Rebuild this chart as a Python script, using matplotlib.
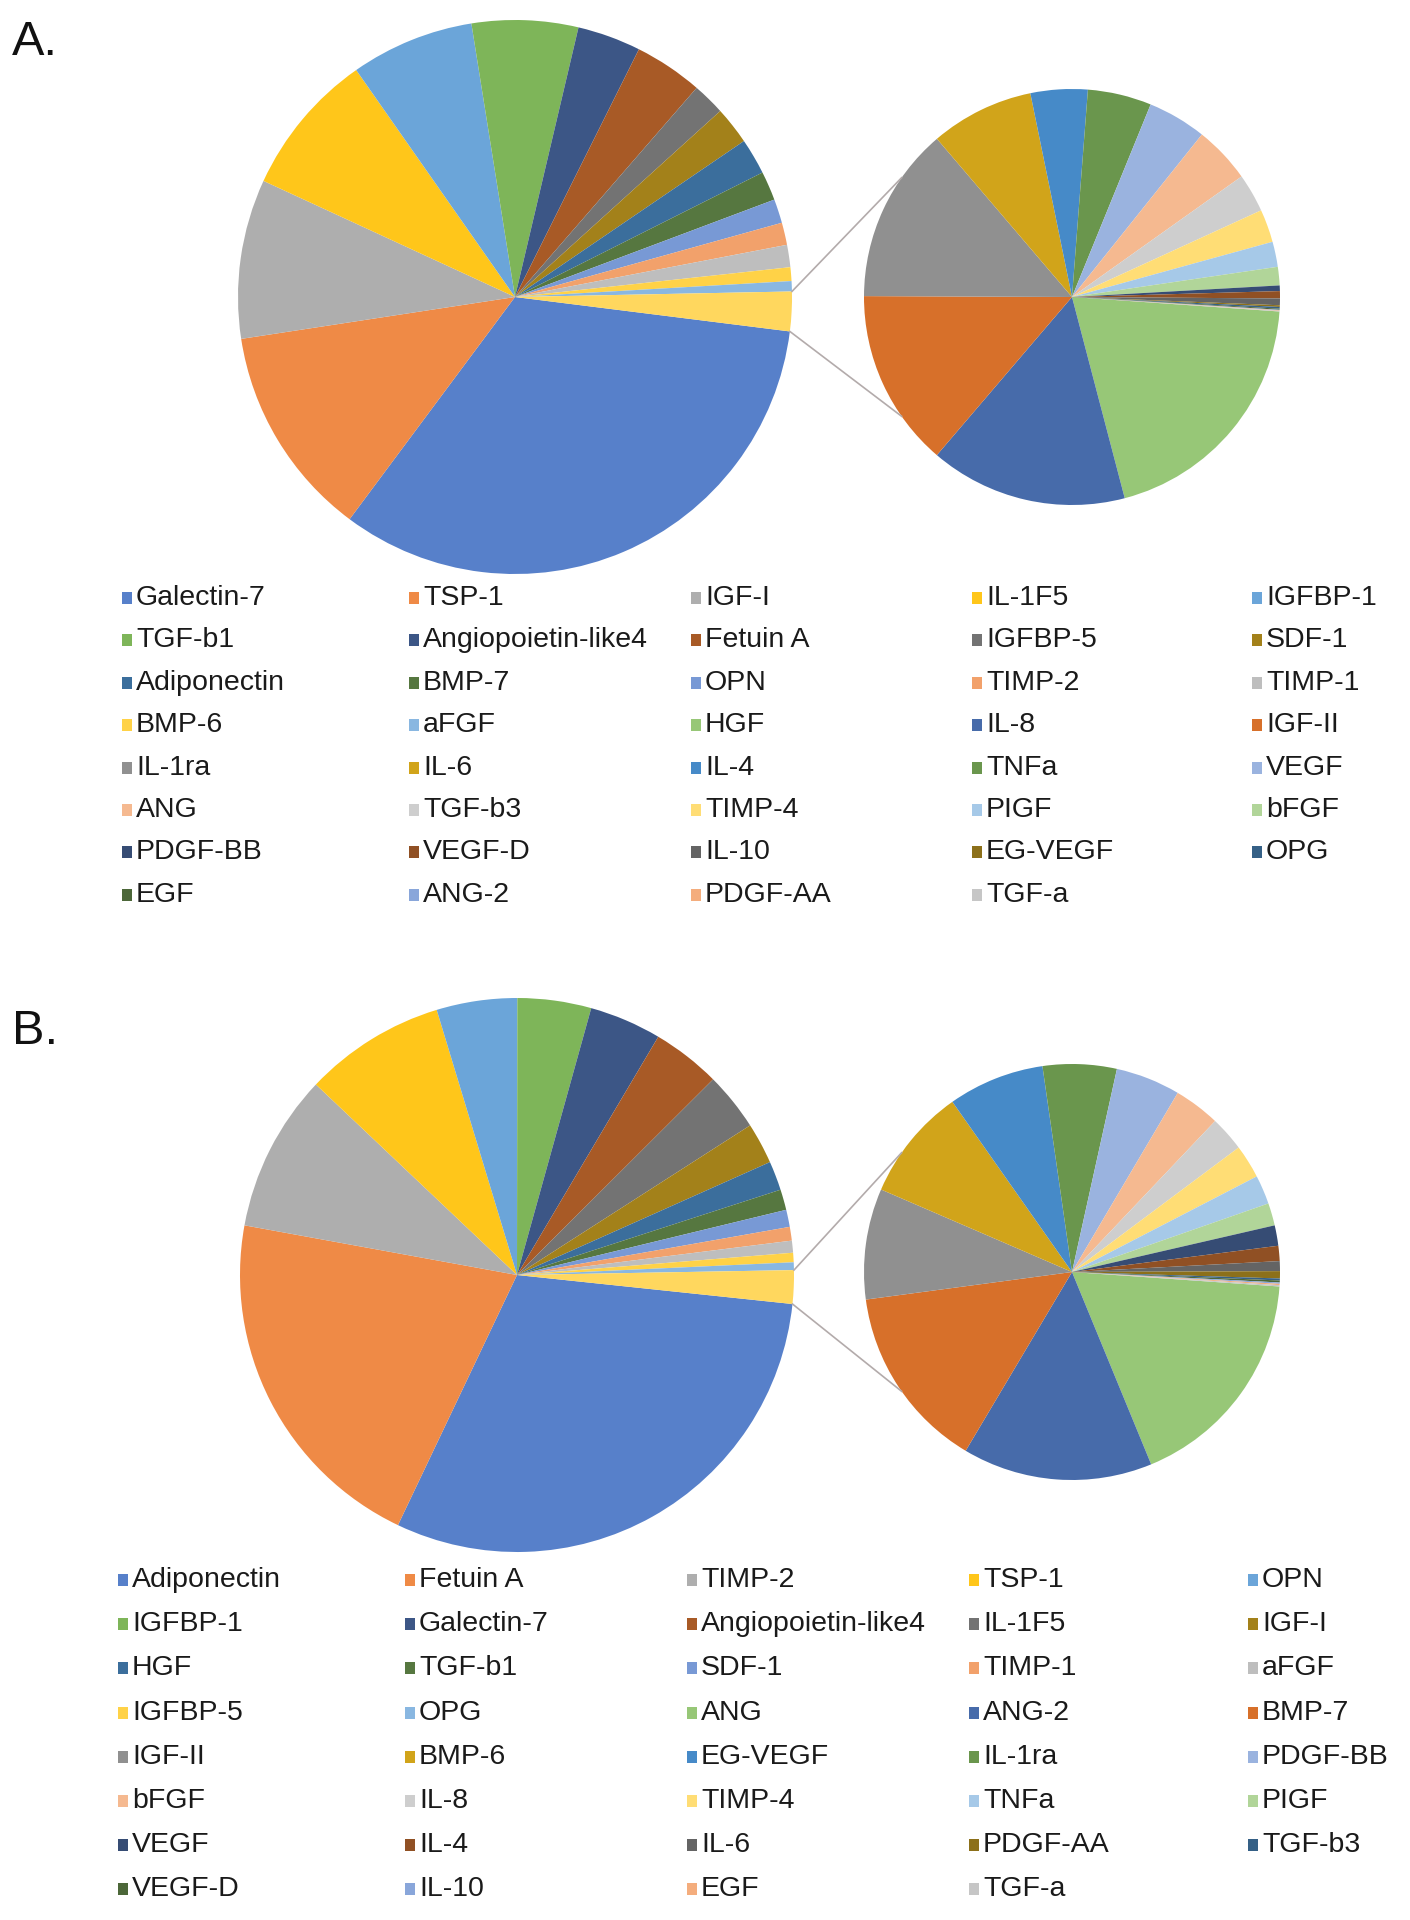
import colorsys
import numpy as np
import matplotlib
matplotlib.use("Agg")
import matplotlib.pyplot as plt
from matplotlib.patches import Rectangle

plt.rcParams['font.family'] = ['Liberation Sans', 'DejaVu Sans']

W, H = 1410, 1920

# panel A: data order (first 17 in the main pie, the rest in the small pie)
names_a = ["Galectin-7", "TSP-1", "IGF-I", "IL-1F5", "IGFBP-1", "TGF-b1",
           "Angiopoietin-like4", "Fetuin A", "IGFBP-5", "SDF-1", "Adiponectin",
           "BMP-7", "OPN", "TIMP-2", "TIMP-1", "BMP-6", "aFGF", "HGF", "IL-8",
           "IGF-II", "IL-1ra", "IL-6", "IL-4", "TNFa", "VEGF", "ANG", "TGF-b3",
           "TIMP-4", "PIGF", "bFGF", "PDGF-BB", "VEGF-D", "IL-10", "EG-VEGF",
           "OPG", "EGF", "ANG-2", "PDGF-AA", "TGF-a"]
values_a = [33.2, 12.4, 9.3, 8.4, 7.2, 6.2, 3.7, 4.0, 1.9, 2.2, 2.1, 1.7, 1.4,
            1.3, 1.3, 0.8, 0.6,
            0.456, 0.353, 0.318, 0.315, 0.185, 0.102, 0.114, 0.105, 0.102,
            0.069, 0.059, 0.045, 0.033, 0.010, 0.013, 0.012, 0.003, 0.003,
            0.002, 0.001, 0.001, 0.001]

# panel B
names_b = ["Adiponectin", "Fetuin A", "TIMP-2", "TSP-1", "OPN", "IGFBP-1",
           "Galectin-7", "Angiopoietin-like4", "IL-1F5", "IGF-I", "HGF",
           "TGF-b1", "SDF-1", "TIMP-1", "aFGF", "IGFBP-5", "OPG", "ANG",
           "ANG-2", "BMP-7", "IGF-II", "BMP-6", "EG-VEGF", "IL-1ra", "PDGF-BB",
           "bFGF", "IL-8", "TIMP-4", "TNFa", "PIGF", "VEGF", "IL-4", "IL-6",
           "PDGF-AA", "TGF-b3", "VEGF-D", "IL-10", "EGF", "TGF-a"]
values_b = [30.4, 20.8, 9.2, 8.25, 4.7, 4.3, 4.2, 4.0, 3.4, 2.4, 1.7, 1.2, 1.0,
            0.8, 0.7, 0.55, 0.45,
            0.345, 0.288, 0.280, 0.168, 0.171, 0.146, 0.112, 0.098, 0.070,
            0.053, 0.051, 0.044, 0.034, 0.031, 0.023, 0.015, 0.011, 0.003,
            0.003, 0.002, 0.002, 0.002]

N_MAIN = 17

# Excel (Office) chart colour sequence, slightly washed out like the print
accents = ["#4472C4", "#ED7D31", "#A5A5A5", "#FFC000", "#5B9BD5", "#70AD47"]
mods = [(1.0, 0.0), (0.6, 0.0), (0.8, 0.2), (0.8, 0.0), (0.6, 0.4),
        (0.5, 0.0), (0.7, 0.3)]


def shade(hexc, mod, off):
    r, g, b = matplotlib.colors.to_rgb(hexc)
    h, l, s = colorsys.rgb_to_hls(r, g, b)
    l = min(1.0, l * mod + off)
    r, g, b = colorsys.hls_to_rgb(h, l, s)
    k = 0.10
    return (r * (1 - k) + k, g * (1 - k) + k, b * (1 - k) + k)


palette = [shade(accents[i % 6], *mods[i // 6]) for i in range(42)]

fig = plt.figure(figsize=(W / 100, H / 100), dpi=100)
ax = fig.add_axes([0, 0, 1, 1])


def Y(y):
    return H - y


def pie_of_pie(values, main_c, main_r, sec_c, sec_r, rot):
    main = list(values[:N_MAIN]) + [sum(values[N_MAIN:])]
    sec = list(values[N_MAIN:])
    other_deg = main[-1] / sum(main) * 360
    main_cols = palette[:N_MAIN] + [palette[len(values)]]
    ax.pie(main, colors=main_cols, startangle=-other_deg / 2 - rot,
           counterclock=False, center=(main_c[0], Y(main_c[1])),
           radius=main_r, wedgeprops=dict(linewidth=0))
    ax.pie(sec, colors=palette[N_MAIN:len(values)], startangle=-4,
           counterclock=False, center=(sec_c[0], Y(sec_c[1])),
           radius=sec_r, wedgeprops=dict(linewidth=0))
    # connector lines
    for sgn in (1, -1):
        a1 = np.radians(sgn * other_deg / 2 - rot)
        a2 = np.radians(180 - sgn * 35)
        x1 = main_c[0] + main_r * np.cos(a1)
        y1 = Y(main_c[1]) + main_r * np.sin(a1)
        x2 = sec_c[0] + sec_r * np.cos(a2)
        y2 = Y(sec_c[1]) + sec_r * np.sin(a2)
        ax.plot([x1, x2], [y1, y2], color="#B3ABAB", lw=1.2)


def legend(names, col_x, row_y0, row_dy):
    for i, name in enumerate(names):
        r, c = divmod(i, 5)
        x = col_x[c]
        y = row_y0 + r * row_dy
        ax.add_patch(Rectangle((x - 5, Y(y) - 6), 10, 12, color=palette[i],
                               lw=0))
        ax.text(x + 9, Y(y), name, fontsize=20.5, color="#1a1a1a",
                va="center", ha="left")


pie_of_pie(values_a, (515, 297), 277, (1072, 297), 208, 3)
pie_of_pie(values_b, (517, 1275), 277, (1072, 1272), 208, 2.5)

legend(names_a, [127, 414, 696, 977, 1257], 598, 42.4)
legend(names_b, [123, 410, 692, 974, 1253], 1580, 44.2)

ax.text(12, Y(55), "A.", fontsize=35, color="#111111", va="baseline")
ax.text(12, Y(1044), "B.", fontsize=35, color="#111111", va="baseline")

ax.set_xlim(0, W)
ax.set_ylim(0, H)
ax.set_aspect("equal")
ax.axis("off")

fig.savefig("out.png", dpi=100, facecolor="white")
